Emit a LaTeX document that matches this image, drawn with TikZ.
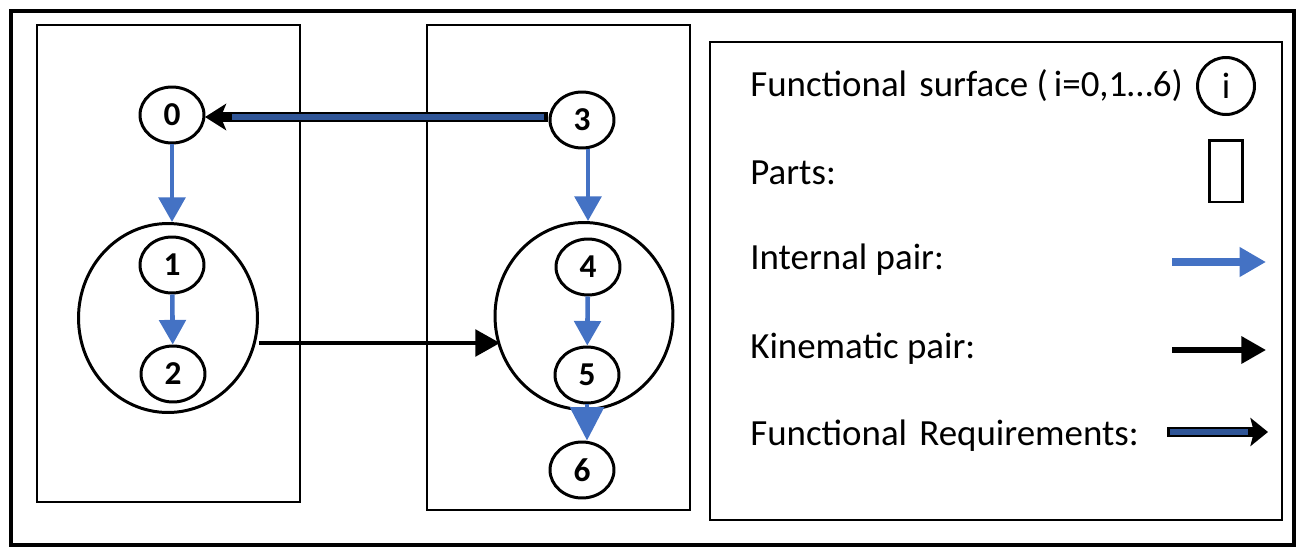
\documentclass[tikz,border=0pt]{standalone}
\usepackage{fontspec}
\setmainfont{Carlito}
\usetikzlibrary{arrows.meta,shapes.geometric}
\definecolor{ipblue}{RGB}{68,114,196}
\definecolor{frblue}{RGB}{47,85,151}
\begin{document}
\begin{tikzpicture}[x=0.02cm,y=-0.02cm,
  surf/.style={draw,line width=1.7pt,ellipse,minimum width=1.28cm,minimum height=1.12cm,inner sep=0pt,font=\fontsize{19}{19}\selectfont\bfseries},
  group/.style={draw,line width=1.7pt,ellipse,inner sep=0pt},
  part/.style={draw,line width=1.5pt},
  internal/.style={draw=ipblue,line width=2.6pt,-{Triangle[length=14pt,width=15pt]}},
  kinematic/.style={draw=black,line width=2.4pt,-{Triangle[length=14pt,width=15pt]}},
  frouter/.style={draw=black,line width=6pt},
  frinner/.style={draw=frblue,line width=3pt},
  lbl/.style={anchor=west,font=\fontsize{21}{21}\selectfont,inner sep=0pt}]
\useasboundingbox (0,0) rectangle (1304,551);
% frame, parts and legend box
\draw[line width=2.4pt] (11,11) rectangle (1294,545);
\draw[part] (37,25) rectangle (300,502);
\draw[part] (427,25) rectangle (690,510);
\draw[part] (710,42) rectangle (1282,520);
% grouped surfaces
\node[group,minimum width=3.58cm,minimum height=3.78cm] (g1) at (168,318) {};
\node[group,minimum width=3.56cm,minimum height=3.74cm] (g2) at (584,316) {};
% functional surfaces
\node[surf] (n0) at (172,115) {0};
\node[surf] (n1) at (172,265) {1};
\node[surf] (n2) at (173,374) {2};
\node[surf] (n3) at (582,120) {3};
\node[surf] (n4) at (588,267) {4};
\node[surf] (n5) at (587,375) {5};
\node[surf] (n6) at (582,470) {6};
% internal pairs
\draw[internal] (n0) -- (n0 |- g1.north);
\draw[internal] (n1) -- (n2);
\draw[internal] (n3.south -| n4) -- (n4 |- g2.north);
\draw[internal] (n4) -- (n5);
\draw[internal,-{Triangle[length=19pt,width=19pt]}] (n5.south) -- (n5.south |- n6.north);
% kinematic pair
\coordinate (kp) at (500,343);
\draw[kinematic] (g1.east |- kp) -- (kp);
% functional requirement
\coordinate (fra) at (205,117);
\coordinate (frb) at (548,117);
\draw[frouter,-{Stealth[length=12pt,width=15pt,inset=3pt]}] (frb) -- (fra);
\draw[frinner] (544,117) -- (232,117);
% legend
\node[lbl] (t1) at (750,86) {Functional\,\,surface (\,i=0,1…6)};
\node[surf,minimum width=1.14cm,minimum height=1.14cm,font=\fontsize{21}{21}\selectfont] (li) at (1226,86) {i};
\node[lbl] (t2) at (750,173) {Parts:};
\node[part,line width=1.7pt,minimum width=0.66cm,minimum height=1.24cm,inner sep=0pt] (lp) at (1226,171) {};
\node[lbl] (t3) at (750,260) {Internal pair:};
\coordinate (a3s) at (1172,262);
\coordinate (a3e) at (1266,262);
\draw[internal,line width=4pt,-{Triangle[length=15pt,width=16pt]}] (a3s) -- (a3e);
\node[lbl] (t4) at (750,349) {Kinematic pair:};
\coordinate (a4s) at (1172,350);
\coordinate (a4e) at (1266,350);
\draw[kinematic,line width=3pt] (a4s) -- (a4e);
\node[lbl] (t5) at (750,436) {Functional\,\,Requirements:};
\coordinate (a5s) at (1167,432);
\coordinate (a5e) at (1268,432);
\draw[frouter,-{Stealth[length=10pt,width=16pt,inset=2pt]}] (a5s) -- (a5e);
\draw[frinner] (1170,432) -- (1248,432);
\end{tikzpicture}
\end{document}
